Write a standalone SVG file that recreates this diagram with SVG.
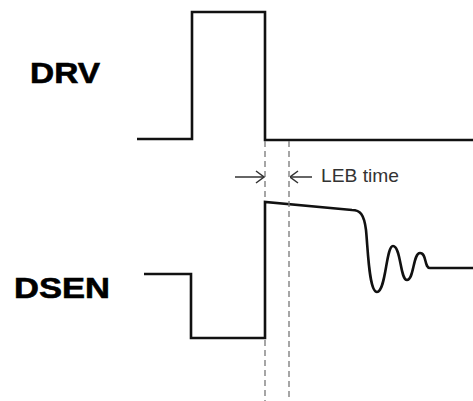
<svg xmlns="http://www.w3.org/2000/svg" width="473" height="401" viewBox="0 0 473 401">
<defs>
<style>
.sig{fill:none;stroke:#111;stroke-width:2.6;stroke-linejoin:miter}
.dash{fill:none;stroke:#777;stroke-width:1.3;stroke-dasharray:6,4}
.arr{fill:none;stroke:#333;stroke-width:1.5}
.lbl{font-family:"Liberation Sans",Arial,sans-serif;font-weight:bold;font-size:29px;fill:#000;stroke:#000;stroke-width:0.6}
.note{font-family:"Liberation Sans",Arial,sans-serif;font-size:18.5px;fill:#333}
</style>
<marker id="head" viewBox="0 0 10 14" refX="9.5" refY="7" markerWidth="10" markerHeight="14" markerUnits="userSpaceOnUse" orient="auto">
<path d="M1.5,1 L9.5,7 L1.5,13" fill="none" stroke="#333" stroke-width="1.5"/>
</marker>
</defs>
<rect width="473" height="401" fill="#fff"/>
<g id="DRV">
<text class="lbl" x="30" y="83" textLength="70" lengthAdjust="spacingAndGlyphs">DRV</text>
<path class="sig" d="M137,139 H192 V12 H265 V140 H473"/>
</g>
<g id="DSEN">
<text class="lbl" x="14" y="298" textLength="96" lengthAdjust="spacingAndGlyphs">DSEN</text>
<path class="sig" d="M144,274 H191 V338 H265 V202 L352,210 C360,210 364,214 366,230 C368,250 369,292 377,292 C386,292 386,246 393,246 C401,246 400,280 407,280 C414,280 413,253 420,253 C427,253 424,268 430,268 H473"/>
</g>
<g id="connectors">
<path class="dash" d="M265,141 V200 M265,340 V401"/>
<path class="dash" d="M289,141 V401"/>
<path class="arr" d="M235,177 H264" marker-end="url(#head)"/>
<path class="arr" d="M312,177 H290" marker-end="url(#head)"/>
</g>
<g id="label">
<text class="note" x="321" y="182" textLength="78" lengthAdjust="spacingAndGlyphs">LEB time</text>
</g>
</svg>
